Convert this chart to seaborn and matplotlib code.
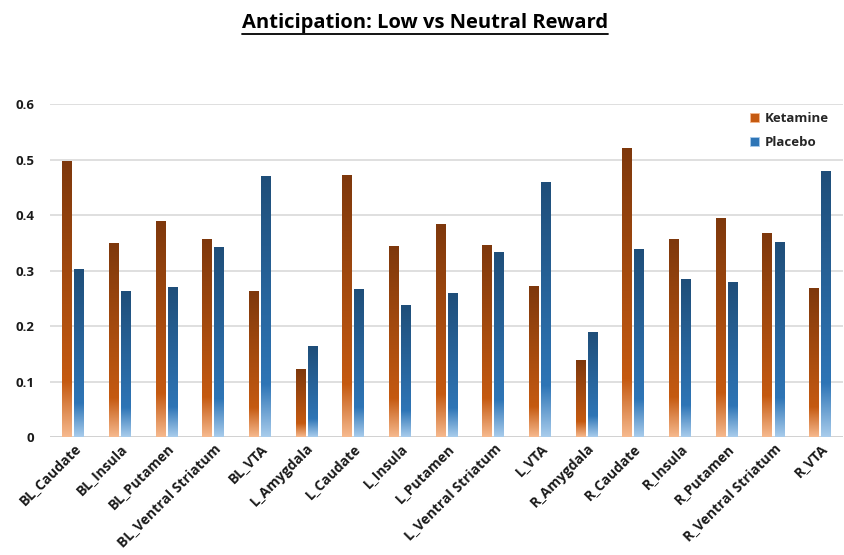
import numpy as np
import pandas as pd
import matplotlib
matplotlib.use("Agg")
import matplotlib.pyplot as plt
import seaborn as sns
from matplotlib.colors import LinearSegmentedColormap
from matplotlib.patches import Patch
from matplotlib.lines import Line2D

# Data
regions = [
    "BL_Caudate", "BL_Insula", "BL_Putamen", "BL_Ventral Striatum", "BL_VTA",
    "L_Amygdala", "L_Caudate", "L_Insula", "L_Putamen", "L_Ventral Striatum", "L_VTA",
    "R_Amygdala", "R_Caudate", "R_Insula", "R_Putamen", "R_Ventral Striatum", "R_VTA",
]
ketamine = [0.496, 0.349, 0.388, 0.355, 0.263,
            0.122, 0.471, 0.343, 0.382, 0.345, 0.271,
            0.137, 0.519, 0.355, 0.394, 0.367, 0.267]
placebo = [0.302, 0.262, 0.269, 0.341, 0.469,
           0.163, 0.265, 0.237, 0.258, 0.332, 0.459,
           0.189, 0.337, 0.283, 0.279, 0.351, 0.478]
groups = ["Ketamine", "Placebo"]

# Excel-like vertical gradients (top dark -> mid -> light at base)
GRAD = {
    "Ketamine": ["#7E380C", "#C55A11", "#F6B98E"],
    "Placebo": ["#1F4E79", "#2E75B6", "#A8CCEC"],
}
MID = {"Ketamine": "#C55A11", "Placebo": "#2E75B6"}

df = pd.DataFrame({
    "region": regions * 2,
    "value": ketamine + placebo,
    "group": ["Ketamine"] * len(regions) + ["Placebo"] * len(regions),
})

sns.set_theme(style="white")
plt.rcParams["font.family"] = ["Open Sans", "DejaVu Sans"]
plt.rcParams["font.weight"] = "bold"

fig = plt.figure(figsize=(8.45, 5.55), dpi=100)
ax = fig.add_axes([0.059, 0.2126, 0.939, 0.6])

sns.barplot(data=df, x="region", y="value", hue="group", hue_order=groups,
            order=regions, palette=MID, width=0.52, gap=0.2,
            legend=False, ax=ax, zorder=3)

ax.set_ylim(0, 0.6)
xlim = ax.get_xlim()

grad = np.linspace(0, 1, 256).reshape(-1, 1)
n = len(regions)
for i, bar in enumerate(ax.patches[:2 * n]):
    grp = groups[i // n]
    cmap = LinearSegmentedColormap.from_list(
        grp, [(0, GRAD[grp][0]), (0.8, GRAD[grp][1]), (1, GRAD[grp][2])])
    x0, y0 = bar.get_x(), bar.get_y()
    w, h = bar.get_width(), bar.get_height()
    ax.imshow(grad, extent=[x0, x0 + w, y0, y0 + h], origin="upper",
              aspect="auto", cmap=cmap, zorder=3, interpolation="bilinear")
    bar.set_visible(False)

ax.set_xlim(xlim)
ax.set_ylim(0, 0.6)
ax.set_yticks([0, 0.1, 0.2, 0.3, 0.4, 0.5, 0.6])
ax.set_yticklabels(["0", "0.1", "0.2", "0.3", "0.4", "0.5", "0.6"],
                   fontsize=9.5, fontweight="bold", color="#1a1a1a")
ax.yaxis.grid(True, color="#D9D9D9", linewidth=1.2, zorder=0)
ax.set_axisbelow(True)
for s in ax.spines.values():
    s.set_visible(False)
ax.axhline(0, color="#D0D0D0", linewidth=1.2, zorder=2)
ax.tick_params(axis="y", length=0, pad=11)
ax.tick_params(axis="x", length=0, pad=3)
ax.set_xlabel("")
ax.set_ylabel("")
ax.set_xticks(range(n))
ax.set_xticklabels(regions, rotation=45, ha="right", rotation_mode="anchor",
                   fontsize=10, fontweight="bold", color="#1a1a1a")

handles = [Patch(facecolor=MID[g], edgecolor=GRAD[g][2], linewidth=0.6, label=g)
           for g in groups]
ax.legend(handles=handles, loc="upper left", bbox_to_anchor=(0.874, 0.995),
          frameon=False, borderpad=0, handlelength=0.7, handleheight=0.7,
          handletextpad=0.4, labelspacing=0.8, prop={"weight": "bold", "size": 9.5})

title = fig.text(0.503, 0.958, "Anticipation: Low vs Neutral Reward",
                 ha="center", va="center", fontsize=14.5, fontweight="bold",
                 color="black")

# underline the title like the Excel original
fig.canvas.draw()
bb = title.get_window_extent(fig.canvas.get_renderer())
W, H = fig.bbox.width, fig.bbox.height
uy = (bb.y0 - 1) / H
fig.add_artist(Line2D([bb.x0 / W, bb.x1 / W], [uy, uy], color="black",
                      linewidth=1.3, transform=fig.transFigure))

fig.savefig("out.png", dpi=100)
